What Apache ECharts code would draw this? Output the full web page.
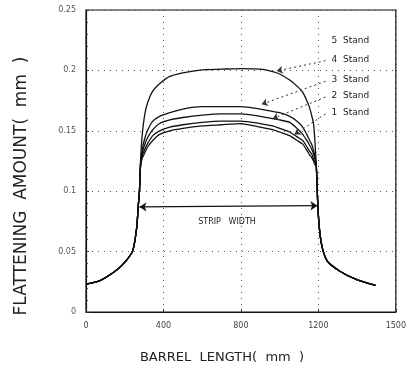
<!DOCTYPE html>
<html>
<head>
<meta charset="utf-8">
<script src="https://cdn.jsdelivr.net/npm/echarts@6/dist/echarts.min.js"></script>
<style>
  html, body { margin: 0; padding: 0; background: #fff; }
  #chart { width: 409px; height: 370px; }
</style>
</head>
<body>
<div id="chart"></div>
<script>
// barrel position (mm), shared by all stands
var barrelX = [0, 72, 160, 210, 242, 262, 270, 276, 282, 290, 304, 320, 345, 380, 433, 500, 600, 700, 800, 900,
               964, 1000, 1052, 1090, 1119, 1140, 1155, 1165, 1175, 1182, 1189, 1197, 1206, 1222, 1247, 1309, 1395, 1495];
// flattening amount (mm)
var stand5 = [0.023, 0.026, 0.035, 0.043, 0.051, 0.070, 0.088, 0.100, 0.126, 0.146, 0.164, 0.174, 0.183, 0.189, 0.195, 0.198, 0.2005, 0.201, 0.2015, 0.201,
              0.199, 0.197, 0.192, 0.187, 0.182, 0.175, 0.169, 0.163, 0.156, 0.142, 0.122, 0.089, 0.068, 0.052, 0.042, 0.034, 0.027, 0.022];
var stand4 = [0.023, 0.026, 0.035, 0.043, 0.051, 0.070, 0.088, 0.100, 0.124, 0.134, 0.144, 0.151, 0.158, 0.162, 0.165, 0.168, 0.170, 0.170, 0.170, 0.168,
              0.166, 0.165, 0.162, 0.158, 0.153, 0.147, 0.142, 0.139, 0.134, 0.129, 0.122, 0.089, 0.068, 0.052, 0.042, 0.034, 0.027, 0.022];
var stand3 = [0.023, 0.026, 0.035, 0.043, 0.051, 0.070, 0.088, 0.100, 0.123, 0.131, 0.139, 0.145, 0.151, 0.156, 0.159, 0.161, 0.163, 0.164, 0.164, 0.162,
              0.160, 0.159, 0.157, 0.152, 0.147, 0.142, 0.138, 0.135, 0.131, 0.127, 0.122, 0.089, 0.068, 0.052, 0.042, 0.034, 0.027, 0.022];
var stand2 = [0.023, 0.026, 0.035, 0.043, 0.051, 0.070, 0.088, 0.100, 0.122, 0.129, 0.135, 0.140, 0.146, 0.150, 0.153, 0.155, 0.157, 0.158, 0.158, 0.156,
              0.154, 0.152, 0.149, 0.145, 0.142, 0.137, 0.133, 0.131, 0.127, 0.124, 0.122, 0.089, 0.068, 0.052, 0.042, 0.034, 0.027, 0.022];
var stand1 = [0.023, 0.026, 0.035, 0.043, 0.051, 0.070, 0.088, 0.100, 0.121, 0.127, 0.132, 0.137, 0.142, 0.147, 0.150, 0.152, 0.154, 0.155, 0.156, 0.153,
              0.151, 0.149, 0.146, 0.142, 0.139, 0.134, 0.130, 0.128, 0.125, 0.122, 0.122, 0.089, 0.068, 0.052, 0.042, 0.034, 0.027, 0.022];

var xTickLabels = ['0', '400', '800', '1200', '1500'];
var yTickLabels = ['0', '0.05', '0.1', '0.15', '0.2', '0.25'];

var standNames = ['5 Stand', '4 Stand', '3 Stand', '2 Stand', '1 Stand'];
var labelY = [0.225, 0.209, 0.192, 0.179, 0.165];  // where the stand notes sit
var leaderEnds = [[985, 0.1995], [907, 0.172], [964, 0.160], [1077, 0.147]];

function pairs(ys) {
    return barrelX.map(function(x, i){ return [x, ys[i]]; });
}

var myChart = echarts.init(document.getElementById('chart'));

var curveStyle = { color: '#111', width: 1.3 };
var series = [stand5, stand4, stand3, stand2, stand1].map(function(ys, i){
    return {
        name: standNames[i],
        type: 'line',
        data: pairs(ys),
        smooth: 0.2,
        symbol: 'none',
        lineStyle: curveStyle,
        z: 3
    };
});

// notes, leader lines and the strip width arrow
series.push({
    type: 'line',
    data: [],
    silent: true,
    markPoint: {
        symbol: 'circle',
        symbolSize: 0,
        data: standNames.map(function(n, i){
            return {
                coord: [1268, labelY[i]],
                label: {
                    show: true, position: 'right', distance: 0,
                    formatter: n.replace(' ', '  '),
                    color: '#222', fontSize: 9, fontFamily: 'DejaVu Sans'
                }
            };
        })
    },
    markLine: {
        silent: true,
        animation: false,
        label: { show: false },
        data: leaderEnds.map(function(e, i){
            return [
                { coord: [1237, labelY[i + 1] - 0.001], symbol: 'none', lineStyle: { type: [2, 3], color: '#333', width: 1 } },
                { coord: e, symbol: 'arrow', symbolSize: 6 }
            ];
        }).concat([[
            { coord: [276, 0.087], symbol: 'arrow', symbolSize: 7, lineStyle: { type: 'solid', color: '#111', width: 1.2 } },
            { coord: [1195, 0.088], symbol: 'arrow', symbolSize: 7 }
        ]])
    }
});

var option = {
    animation: false,
    backgroundColor: '#fff',
    grid: {
        left: 86, right: 13, top: 10, bottom: 58,
        show: true, borderColor: '#111', borderWidth: 1.2
    },
    xAxis: {
        type: 'value',
        min: 0, max: 1600, interval: 400,
        axisLine: { show: true, lineStyle: { color: '#111', width: 1.2 } },
        axisTick: { show: true, inside: true, length: 3, lineStyle: { color: '#333' } },
        axisLabel: {
            color: '#444', fontSize: 8, margin: 10, fontFamily: 'DejaVu Sans',
            formatter: function(v){ return xTickLabels[v / 400]; }
        },
        splitLine: {
            show: true,
            lineStyle: { type: [1, 5], color: '#555', width: 1 }
        }
    },
    yAxis: {
        type: 'value',
        min: 0, max: 0.25, interval: 0.05,
        axisLine: { show: true, lineStyle: { color: '#111', width: 1.2 } },
        axisTick: { show: true, inside: true, length: 3, lineStyle: { color: '#333' } },
        minorTick: { show: true, splitNumber: 5, length: 2, lineStyle: { color: '#444' } },
        axisLabel: {
            color: '#555', fontSize: 8, margin: 10, fontFamily: 'DejaVu Sans',
            formatter: function(v){ return yTickLabels[Math.round(v / 0.05)]; }
        },
        splitLine: {
            show: true,
            lineStyle: { type: [1, 5], color: '#555', width: 1 }
        }
    },
    graphic: [
        {
            type: 'text', x: 22, y: 186, rotation: Math.PI / 2,
            style: {
                text: 'FLATTENING  AMOUNT(  mm  )',
                font: '17px "DejaVu Sans"', fill: '#222',
                align: 'center', verticalAlign: 'middle'
            }
        },
        {
            type: 'text', x: 222, y: 358,
            style: {
                text: 'BARREL  LENGTH(  mm  )',
                font: '13px "DejaVu Sans"', fill: '#222',
                align: 'center', verticalAlign: 'middle'
            }
        },
        {
            type: 'text', x: 227, y: 222,
            style: {
                text: 'STRIP   WIDTH',
                font: '8px "DejaVu Sans"', fill: '#222',
                align: 'center', verticalAlign: 'middle'
            }
        }
    ],
    series: series
};

myChart.setOption(option);
</script>
</body>
</html>
